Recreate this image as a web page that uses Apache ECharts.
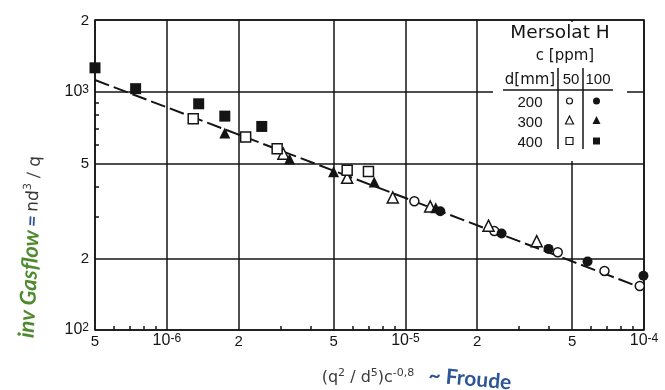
<!DOCTYPE html>
<html><head><meta charset="utf-8">
<script src="https://cdn.jsdelivr.net/npm/echarts@6/dist/echarts.min.js"></script>
<style>html,body{margin:0;padding:0;background:#fff}#c{width:665px;height:390px}</style>
</head><body><div id="c"></div>
<script>
// ---- axis ticks ----
const xMajor = [5e-7, 1e-6, 2e-6, 5e-6, 1e-5, 2e-5, 5e-5, 1e-4];
const xTickLabels = ['5', '10^-6', '2', '5', '10^-5', '2', '5', '10^-4'];
const xMinor = [6e-7, 7e-7, 8e-7, 9e-7, 3e-6, 4e-6, 6e-6, 7e-6, 8e-6, 9e-6, 3e-5, 4e-5, 6e-5, 7e-5, 8e-5, 9e-5];
const yMajor = [100, 200, 500, 1000, 2000];
const yTickLabels = ['10^2', '2', '5', '10^3', '2'];
const yMinor = [300, 400, 600, 700, 800, 900];

// ---- data: [ (q^2/d^5) c^-0.8 , n d^3 / q ] ----
const d200c50  = [[1.09e-5, 347], [2.36e-5, 260], [4.35e-5, 212], [6.83e-5, 177], [9.6e-5, 153]];
const d200c100 = [[1.40e-5, 315], [2.53e-5, 254], [3.98e-5, 219], [5.8e-5, 194], [9.95e-5, 169]];
const d300c50  = [[3.08e-6, 549], [5.7e-6, 435], [8.85e-6, 360], [1.27e-5, 330], [2.23e-5, 274], [3.55e-5, 236]];
const d300c100 = [[1.75e-6, 671], [3.27e-6, 522], [5.0e-6, 461], [7.4e-6, 418], [1.34e-5, 326]];
const d400c50  = [[1.29e-6, 770], [2.14e-6, 646], [2.9e-6, 577], [5.7e-6, 468], [7.0e-6, 463]];
const d400c100 = [[5e-7, 1260], [7.4e-7, 1030], [1.36e-6, 890], [1.75e-6, 790], [2.5e-6, 715]];
const fitLine  = [[5e-7, 1120], [9.5e-5, 152]];

// ---- legend texts ----
const legendTitle = 'Mersolat H';
const legendSub = 'c [ppm]';
const legendHead = 'd[mm]';
const legendCols = ['50', '100'];
const legendRows = ['200', '300', '400'];

const INK = '#141414';
const TICKFONT = "'Liberation Sans', Arial, sans-serif";
const LEGFONT = "'DejaVu Sans', sans-serif";
const NUMFONT = "'Liberation Sans', Arial, sans-serif";

function toRich(lbl) {
  if (lbl.indexOf('^') >= 0) {
    const p = lbl.split('^');
    return '{n|' + p[0] + '}{e|' + p[1] + '}';
  }
  return '{p|' + lbl + '}';
}
function nearestIdx(arr, v) {
  let best = 0, bd = Infinity;
  arr.forEach((a, i) => { const d = Math.abs(Math.log10(a) - Math.log10(v)); if (d < bd) { bd = d; best = i; } });
  return best;
}
const richTick = {
  p: { fontSize: 15, lineHeight: 16, fontFamily: TICKFONT, color: INK, verticalAlign: 'bottom' },
  n: { fontSize: 16, lineHeight: 16, fontFamily: TICKFONT, color: INK, verticalAlign: 'bottom', padding: [7, 0, 0, 0] },
  e: { fontSize: 12, lineHeight: 12, fontFamily: TICKFONT, color: INK, verticalAlign: 'top' }
};

const chart = echarts.init(document.getElementById('c'));
const openStyle = { color: '#fff', borderColor: INK, borderWidth: 1.5, opacity: 1 };
const fillStyle = { color: INK, opacity: 1 };

function scat(name, data, symbol, size, style) {
  return { name, type: 'scatter', data, symbol, symbolSize: size, itemStyle: style, z: 5, xAxisIndex: 0, yAxisIndex: 0, clip: false };
}

function legText(x, y, text, font) {
  return { type: 'text', z: 51, x, y, style: { text, font, fill: INK, align: 'center', verticalAlign: 'middle' } };
}

chart.setOption({
  animation: false,
  backgroundColor: '#fff',
  grid: { left: 95, right: 21, top: 20, bottom: 60, show: true, borderColor: INK, borderWidth: 1.6, backgroundColor: 'transparent' },
  xAxis: [{
    type: 'log', logBase: 10, min: 5e-7, max: 1e-4, position: 'bottom',
    axisLine: { show: false },
    axisTick: { show: false, customValues: xMajor },
    splitLine: { show: true, lineStyle: { color: INK, width: 1.5 } },
    axisLabel: {
      customValues: xMajor, margin: 3, verticalAlign: 'top',
      formatter: (v) => toRich(xTickLabels[nearestIdx(xMajor, v)]),
      rich: richTick
    }
  }, {
    type: 'log', logBase: 10, min: 5e-7, max: 1e-4, position: 'bottom',
    axisLine: { show: false },
    axisTick: { show: true, inside: true, length: 4, customValues: xMinor, lineStyle: { color: INK, width: 1.5 } },
    splitLine: { show: false },
    axisLabel: { show: false }
  }],
  yAxis: [{
    type: 'log', logBase: 10, min: 100, max: 2000, position: 'left',
    axisLine: { show: false },
    axisTick: { show: false, customValues: yMajor },
    splitLine: { show: true, lineStyle: { color: INK, width: 1.5 } },
    axisLabel: {
      customValues: yMajor, margin: 6,
      formatter: (v) => toRich(yTickLabels[nearestIdx(yMajor, v)]),
      rich: richTick
    }
  }, {
    type: 'log', logBase: 10, min: 100, max: 2000, position: 'left',
    axisLine: { show: false },
    axisTick: { show: true, inside: true, length: 4, customValues: yMinor, lineStyle: { color: INK, width: 1.5 } },
    splitLine: { show: false },
    axisLabel: { show: false }
  }],
  series: [
    { name: 'fit', type: 'line', data: fitLine, symbol: 'none', z: 3,
      lineStyle: { color: INK, width: 2, type: [15, 5] } },
    scat('200/50', d200c50, 'circle', 9, openStyle),
    scat('200/100', d200c100, 'circle', 10, fillStyle),
    scat('300/50', d300c50, 'triangle', 11, openStyle),
    scat('300/100', d300c100, 'triangle', 11, fillStyle),
    scat('400/50', d400c50, 'rect', 10, openStyle),
    scat('400/100', d400c100, 'rect', 11, fillStyle)
  ],
  graphic: [
    // legend panel
    { type: 'rect', z: 50, shape: { x: 493, y: 22, width: 134, height: 139 }, style: { fill: '#fff' } },
    legText(560, 33, legendTitle, "18.5px " + LEGFONT),
    legText(565, 56, legendSub, "15px " + LEGFONT),
    legText(530, 80, legendHead, "15px " + LEGFONT),
    legText(571, 80, legendCols[0], "15px " + NUMFONT),
    legText(598, 80, legendCols[1], "15px " + NUMFONT),
    { type: 'line', z: 51, shape: { x1: 503, y1: 90, x2: 613, y2: 90 }, style: { stroke: INK, lineWidth: 1.5 } },
    { type: 'line', z: 51, shape: { x1: 558, y1: 68, x2: 558, y2: 149 }, style: { stroke: INK, lineWidth: 1.5 } },
    { type: 'line', z: 51, shape: { x1: 583, y1: 68, x2: 583, y2: 149 }, style: { stroke: INK, lineWidth: 1.5 } },
    legText(530, 103, legendRows[0], "15px " + NUMFONT),
    legText(530, 123, legendRows[1], "15px " + NUMFONT),
    legText(530, 143, legendRows[2], "15px " + NUMFONT),
    { type: 'circle', z: 51, shape: { cx: 569.5, cy: 101, r: 3 }, style: { fill: '#fff', stroke: INK, lineWidth: 1.2 } },
    { type: 'circle', z: 51, shape: { cx: 596.5, cy: 101, r: 3.5 }, style: { fill: INK } },
    { type: 'polygon', z: 51, shape: { points: [[569.5, 116], [565.5, 124], [573.5, 124]] }, style: { fill: '#fff', stroke: INK, lineWidth: 1.2 } },
    { type: 'polygon', z: 51, shape: { points: [[596.5, 116], [592.5, 124], [600.5, 124]] }, style: { fill: INK } },
    { type: 'rect', z: 51, shape: { x: 566, y: 137.5, width: 7, height: 7 }, style: { fill: '#fff', stroke: INK, lineWidth: 1.2 } },
    { type: 'rect', z: 51, shape: { x: 593, y: 137.5, width: 7, height: 7 }, style: { fill: INK } },
    // y-axis title
    { type: 'text', z: 51, x: 31, y: 247, rotation: Math.PI / 2 - 0.05,
      style: { text: '{g|inv Gasflow} {b|=} {k|nd}{s|3}{k| / q}', align: 'center', verticalAlign: 'middle',
        rich: {
          g: { font: "italic bold 22px Lato, 'Open Sans', sans-serif", fill: '#4e8a2e', lineHeight: 23 },
          b: { font: "italic bold 20px Lato, 'Open Sans', sans-serif", fill: '#2f5597', lineHeight: 23 },
          k: { font: "17px " + LEGFONT, fill: '#3a3a3a', lineHeight: 21 },
          s: { font: "11px " + LEGFONT, fill: '#3a3a3a', lineHeight: 11, verticalAlign: 'top' }
        } } },
    // x-axis title
    { type: 'text', z: 51, x: 368, y: 378,
      style: { text: '{k|(q}{s|2}{k| / d}{s|5}{k|)c}{s|-0,8}', align: 'center', verticalAlign: 'middle',
        rich: {
          k: { font: "16px " + LEGFONT, fill: '#3a3a3a', lineHeight: 20 },
          s: { font: "11px " + LEGFONT, fill: '#3a3a3a', lineHeight: 11, verticalAlign: 'top' }
        } } },
    { type: 'text', z: 51, x: 470, y: 379, rotation: -0.09,
      style: { text: '~ Froude', font: "bold 21px Lato, 'Open Sans', sans-serif", fill: '#2f5597', align: 'center', verticalAlign: 'middle' } }
  ]
});
</script></body></html>
